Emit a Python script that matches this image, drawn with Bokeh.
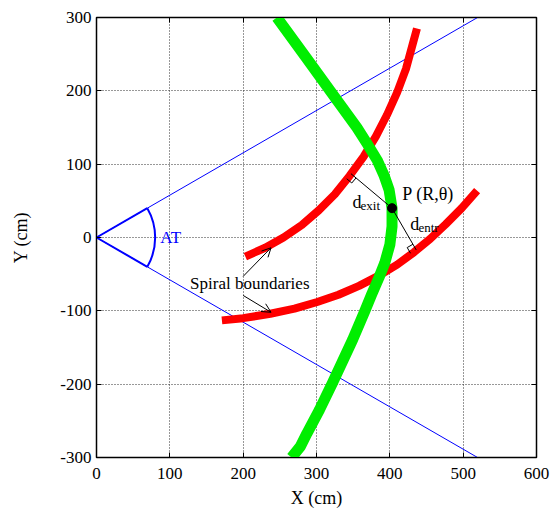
import numpy as np
from bokeh.plotting import figure
from bokeh.models import Range1d, LinearAxis, FixedTicker, Arrow, OpenHead
from bokeh.core.properties import value
from bokeh.embed import file_html
from bokeh.resources import INLINE

# Spiral sector boundaries (cm)
upper_x = [203, 230, 255, 280, 303, 325, 345, 364, 381, 396, 410, 422, 431, 437]
upper_y = [-26, -14, 0, 17, 37, 59, 84, 110, 138, 167, 198, 230, 263, 285]
lower_x = [171, 200, 237, 270, 301, 330, 358, 387, 410, 433, 455, 476, 498, 519]
lower_y = [-113, -110, -104, -97, -88, -78, -66, -51, -37, -20, -2, 18, 40, 64]

# Particle orbit crossing the sector (cm)
orbit_x = [246, 286, 326, 355, 369, 383, 392, 399, 403, 403, 400, 393, 385,
           375, 366, 349, 335, 321, 304, 287, 278, 266]
orbit_y = [300, 245, 190, 150, 128, 105, 85, 65, 40, 15, -10, -35, -55,
           -78, -100, -140, -170, -200, -235, -267, -285, -300]

# Point P on the orbit and the feet of the perpendiculars to the boundaries
p_point = (403, 40)
exit_foot = (347, 87)
entr_foot = (436, -17)

# Sector opening angle (half-angle, degrees), ray reach and arc radius (cm)
at_half_angle = 30.0
ray_x_end = 520.0
arc_radius = 80.0

# Axis ticks and their labels
x_ticks = [0, 100, 200, 300, 400, 500, 600]
x_tick_labels = ["0", "100", "200", "300", "400", "500", "600"]
y_ticks = [-300, -200, -100, 0, 100, 200, 300]
y_tick_labels = ["-300", "-200", "-100", "0", "100", "200", "300"]

FONT = "Liberation Serif"

p = figure(frame_width=440, frame_height=440,
           x_range=Range1d(0, 600), y_range=Range1d(-300, 300),
           output_backend="svg", toolbar_location=None,
           min_border_left=96, min_border_right=19,
           min_border_top=17, min_border_bottom=59)
p.background_fill_color = "white"
p.border_fill_color = "white"
p.outline_line_color = "black"
p.outline_line_width = 1.5

xt = FixedTicker(ticks=x_ticks)
yt = FixedTicker(ticks=y_ticks)

p.xaxis.ticker = xt
p.yaxis.ticker = yt
p.xaxis.major_label_overrides = {t: s for t, s in zip(x_ticks, x_tick_labels)}
p.yaxis.major_label_overrides = {t: s for t, s in zip(y_ticks, y_tick_labels)}
p.xaxis.axis_label = "X (cm)"
p.yaxis.axis_label = "Y (cm)"

for ax in (p.xaxis[0], p.yaxis[0]):
    ax.major_tick_in = 5
    ax.major_tick_out = 0
    ax.minor_tick_line_color = None
    ax.axis_line_color = "black"
    ax.major_tick_line_color = "black"
    ax.major_label_text_font = FONT
    ax.major_label_text_font_size = "17px"
    ax.major_label_text_color = "black"
    ax.axis_label_text_font = FONT
    ax.axis_label_text_font_size = "18px"
    ax.axis_label_text_font_style = "normal"
    ax.axis_label_text_color = "black"

p.xaxis.major_label_standoff = 10
p.xaxis.axis_label_standoff = 6
p.yaxis.major_label_standoff = 5
p.yaxis.axis_label_standoff = 26

# mirrored tick marks on the top and right borders (no labels)
for side, tk in (("above", xt), ("right", yt)):
    ax = LinearAxis(ticker=tk, major_tick_in=5, major_tick_out=0,
                    minor_tick_line_color=None, axis_line_color="black",
                    major_label_text_color=None, major_label_text_font_size="1px",
                    major_label_standoff=0)
    p.add_layout(ax, side)

for g, tk in ((p.xgrid[0], xt), (p.ygrid[0], yt)):
    g.ticker = tk
    g.grid_line_color = "#303030"
    g.grid_line_dash = "1 2"
    g.grid_line_width = 1

# sector edges and opening angle
ang = np.deg2rad(at_half_angle)
ray_y_end = ray_x_end * np.tan(ang)
p.line([0, ray_x_end], [0, ray_y_end], line_color="blue", line_width=1)
p.line([0, ray_x_end], [0, -ray_y_end], line_color="blue", line_width=1)
p.line([0, arc_radius * np.cos(ang)], [0, arc_radius * np.sin(ang)], line_color="blue", line_width=2)
p.line([0, arc_radius * np.cos(ang)], [0, -arc_radius * np.sin(ang)], line_color="blue", line_width=2)
p.arc(x=[0], y=[0], radius=arc_radius, start_angle=-ang, end_angle=ang,
      line_color="blue", line_width=2)
p.text(x=[87], y=[0], text=["AT"], text_font=value(FONT), text_font_size="17px",
       text_color="blue", text_align="left", text_baseline="middle")

# spiral boundaries and orbit
p.line(upper_x, upper_y, line_color="#ff0000", line_width=8, line_join="round")
p.line(lower_x, lower_y, line_color="#ff0000", line_width=8, line_join="round")
p.line(orbit_x, orbit_y, line_color="#00ee00", line_width=11, line_join="round")

# perpendicular distances from P to the two boundaries
p.line([exit_foot[0], p_point[0], entr_foot[0]],
       [exit_foot[1], p_point[1], entr_foot[1]], line_color="black", line_width=1)


def right_angle(foot, toward, side, s=9.0):
    u = np.array(toward, float) - np.array(foot, float)
    u /= np.hypot(*u)
    n = np.array([-u[1], u[0]]) * side
    f = np.array(foot, float)
    pts = [f + s * u, f + s * u + s * n, f + s * n]
    return [q[0] for q in pts], [q[1] for q in pts]


mx, my = right_angle(exit_foot, p_point, side=-1)
p.line(mx, my, line_color="black", line_width=1)
mx, my = right_angle(entr_foot, p_point, side=1)
p.line(mx, my, line_color="black", line_width=1)

p.scatter([p_point[0]], [p_point[1]], size=9, color="black")

p.text(x=[417], y=[60], text=["P (R,\u03b8)"], text_font=value(FONT), text_font_size="18px",
       text_color="black", text_align="left", text_baseline="middle")
p.text(x=[349], y=[49], text=["d"], text_font=value(FONT), text_font_size="18px",
       text_color="black", text_align="left", text_baseline="alphabetic")
p.text(x=[360], y=[44], text=["exit"], text_font=value(FONT), text_font_size="13px",
       text_color="black", text_align="left", text_baseline="alphabetic")
p.text(x=[428], y=[18], text=["d"], text_font=value(FONT), text_font_size="18px",
       text_color="black", text_align="left", text_baseline="alphabetic")
p.text(x=[439], y=[13], text=["entr"], text_font=value(FONT), text_font_size="13px",
       text_color="black", text_align="left", text_baseline="alphabetic")

p.text(x=[209], y=[-63], text=["Spiral boundaries"], text_font=value(FONT),
       text_font_size="17px", text_color="black", text_align="center", text_baseline="middle")
p.add_layout(Arrow(end=OpenHead(size=9, line_width=1, line_color="black"),
                   x_start=200, y_start=-53, x_end=238, y_end=-14,
                   line_color="black", line_width=1))
p.add_layout(Arrow(end=OpenHead(size=9, line_width=1, line_color="black"),
                   x_start=200, y_start=-79, x_end=238, y_end=-102,
                   line_color="black", line_width=1))

open("out.html", "w").write(file_html(p, INLINE))
